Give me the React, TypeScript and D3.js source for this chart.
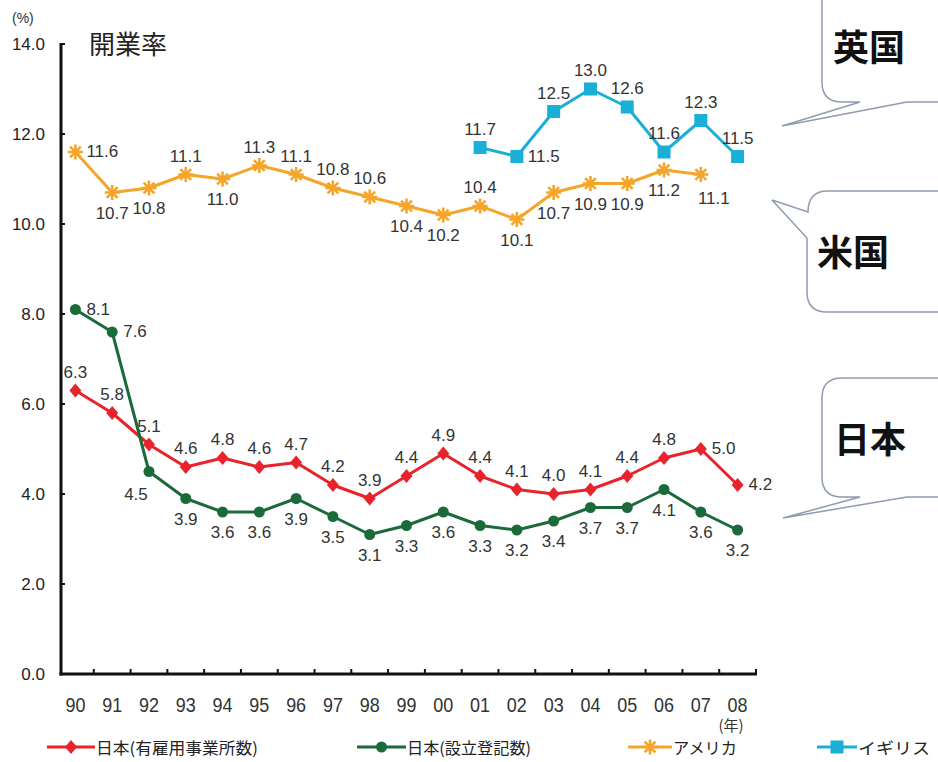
import React from "react";
import * as d3 from "d3";

// years on the x axis
const years = ["90", "91", "92", "93", "94", "95", "96", "97", "98", "99", "00", "01", "02", "03", "04", "05", "06", "07", "08"];
const yTicks = [0, 2, 4, 6, 8, 10, 12, 14];

// 日本(有雇用事業所数)
const japanEmployer = [6.3, 5.8, 5.1, 4.6, 4.8, 4.6, 4.7, 4.2, 3.9, 4.4, 4.9, 4.4, 4.1, 4.0, 4.1, 4.4, 4.8, 5.0, 4.2];
const japanEmployerLabelPos = ["a", "a", "a", "a", "a", "a", "a", "a", "a", "a", "a", "a", "a", "a", "a", "a", "a", "r", "r"];

// 日本(設立登記数)
const japanRegistry = [8.1, 7.6, 4.5, 3.9, 3.6, 3.6, 3.9, 3.5, 3.1, 3.3, 3.6, 3.3, 3.2, 3.4, 3.7, 3.7, 4.1, 3.6, 3.2];
const japanRegistryLabelPos = ["r", "r", "bl", "b", "b", "b", "b", "b", "b", "b", "b", "b", "b", "b", "b", "b", "b", "b", "b"];

// アメリカ (90-07)
const usYears = ["90", "91", "92", "93", "94", "95", "96", "97", "98", "99", "00", "01", "02", "03", "04", "05", "06", "07"];
const usRate = [11.6, 10.7, 10.8, 11.1, 11.0, 11.3, 11.1, 10.8, 10.6, 10.4, 10.2, 10.4, 10.1, 10.7, 10.9, 10.9, 11.2, 11.1];
const usLabelPos = ["r", "b", "b", "a", "b", "a", "a", "a", "a", "b", "b", "a", "b", "b", "b", "b", "b", "br"];

// イギリス (01-08)
const ukYears = ["01", "02", "03", "04", "05", "06", "07", "08"];
const ukRate = [11.7, 11.5, 12.5, 13.0, 12.6, 11.6, 12.3, 11.5];
const ukLabelPos = ["a", "r", "a", "a", "a", "a", "a", "a"];

const RED = "#e8232b";
const GREEN = "#1b6b3a";
const ORANGE = "#f5a52a";
const CYAN = "#19afd6";

const offsets: Record<string, { dx: number; dy: number; anchor: string }> = {
  a: { dx: 0, dy: -13, anchor: "middle" },
  b: { dx: 0, dy: 26, anchor: "middle" },
  r: { dx: 11, dy: 5, anchor: "start" },
  bl: { dx: -13, dy: 28, anchor: "middle" },
  br: { dx: 13, dy: 29, anchor: "middle" },
};

const sansFont = "'Liberation Sans', Arial, sans-serif";
const jpFont = "'Noto Sans CJK JP', 'Noto Sans', sans-serif";

export default function App() {
  const width = 938;
  const height = 762;

  const x = d3.scaleBand().domain(years).range([57, 756]).padding(0);
  const y = d3.scaleLinear().domain([0, 14]).range([674, 44]);
  const cx = (d: string) => (x(d) as number) + x.bandwidth() / 2;

  const series = [
    { name: "red", keys: years, values: japanEmployer, pos: japanEmployerLabelPos, color: RED, marker: "diamond" },
    { name: "green", keys: years, values: japanRegistry, pos: japanRegistryLabelPos, color: GREEN, marker: "circle" },
    { name: "orange", keys: usYears, values: usRate, pos: usLabelPos, color: ORANGE, marker: "star" },
    { name: "cyan", keys: ukYears, values: ukRate, pos: ukLabelPos, color: CYAN, marker: "square" },
  ];

  const line = d3
    .line<[string, number]>()
    .x((d) => cx(d[0]))
    .y((d) => y(d[1]));

  const drawMarker = (type: string, px: number, py: number, color: string, key: string) => {
    if (type === "diamond") {
      return <path key={key} d={`M${px},${py - 7}L${px + 6},${py}L${px},${py + 7}L${px - 6},${py}Z`} fill={color} />;
    }
    if (type === "circle") {
      return <circle key={key} cx={px} cy={py} r={5.5} fill={color} />;
    }
    if (type === "square") {
      return <rect key={key} x={px - 6.5} y={py - 6.5} width={13} height={13} fill={color} />;
    }
    // 8-ray star
    const r = 7.5;
    const q = r * 0.72;
    return (
      <path
        key={key}
        d={`M${px - r},${py}L${px + r},${py}M${px},${py - r}L${px},${py + r}M${px - q},${py - q}L${px + q},${py + q}M${px - q},${py + q}L${px + q},${py - q}`}
        stroke={color}
        strokeWidth={2.6}
        fill="none"
      />
    );
  };

  const legend = [
    { label: "日本(有雇用事業所数)", color: RED, marker: "diamond", x1: 47, x2: 95, w: 162 },
    { label: "日本(設立登記数)", color: GREEN, marker: "circle", x1: 357, x2: 406, w: 124 },
    { label: "アメリカ", color: ORANGE, marker: "star", x1: 628, x2: 672, w: 64 },
    { label: "イギリス", color: CYAN, marker: "square", x1: 817, x2: 857, w: 72 },
  ];

  return (
    <svg width={width} height={height} style={{ position: "absolute", left: 0, top: 0, background: "#fff" }}>
      {/* callouts */}
      <g fill="#fff" stroke="#8e9bb0" strokeWidth={1.5}>
        <path d="M822,-20L822,82Q822,102 842,102L860,102L782,126L907,102L950,102L950,-20Z" />
        <path d="M828,191L950,191L950,312L827,312Q807,312 807,292L807,238L772,200L808,212Q808,191 828,191Z" />
        <path d="M842,378L950,378L950,497L907,497L783,518L860,497L842,497Q822,497 822,477L822,398Q822,378 842,378Z" />
      </g>
      <g fontFamily={jpFont} fontWeight={700} fontSize={36} fill="#111">
        <text x={869} y={61} textAnchor="middle">英国</text>
        <text x={853} y={266} textAnchor="middle">米国</text>
        <text x={870} y={453} textAnchor="middle">日本</text>
      </g>

      {/* title and unit */}
      <text x={12} y={23} fontFamily={sansFont} fontSize={14} fill="#333">(%)</text>
      <text x={89} y={54} fontFamily={jpFont} fontSize={26} fill="#222">開業率</text>

      {/* y axis */}
      <line x1={61} x2={61} y1={y(14) - 1} y2={y(0) + 1.5} stroke="#111" strokeWidth={3} />
      {yTicks.map((t) => (
        <g key={t}>
          <line x1={61} x2={65} y1={y(t)} y2={y(t)} stroke="#111" strokeWidth={2} />
          <text x={45} y={y(t) + 6} textAnchor="end" fontFamily={sansFont} fontSize={17} fill="#222">
            {t.toFixed(1)}
          </text>
        </g>
      ))}

      {/* x axis */}
      <line x1={59.5} x2={757} y1={y(0)} y2={y(0)} stroke="#111" strokeWidth={3} />
      {years.map((d, i) =>
        i === 0 ? null : (
          <line key={"t" + d} x1={x(d) as number} x2={x(d) as number} y1={y(0)} y2={y(0) - 5} stroke="#111" strokeWidth={2} />
        )
      )}
      <line x1={756} x2={756} y1={y(0)} y2={y(0) - 5} stroke="#111" strokeWidth={2} />
      {years.map((d) => (
        <text key={"x" + d} x={cx(d)} y={712} textAnchor="middle" fontFamily={sansFont} fontSize={20} fill="#333" textLength={20} lengthAdjust="spacingAndGlyphs">
          {d}
        </text>
      ))}
      <text x={731} y={731} textAnchor="middle" fontFamily={jpFont} fontSize={15} fill="#333">(年)</text>

      {/* series */}
      {series.map((s) => {
        const pts = s.keys.map((k, i) => [k, s.values[i]] as [string, number]);
        return (
          <g key={s.name}>
            <path d={line(pts) as string} fill="none" stroke={s.color} strokeWidth={3} strokeLinejoin="round" />
            {pts.map((p, i) => drawMarker(s.marker, cx(p[0]), y(p[1]), s.color, s.name + i))}
            {pts.map((p, i) => {
              const o = offsets[s.pos[i]];
              return (
                <text
                  key={s.name + "l" + i}
                  x={cx(p[0]) + o.dx}
                  y={y(p[1]) + o.dy}
                  textAnchor={o.anchor}
                  fontFamily={sansFont}
                  fontSize={17}
                  fill="#333"
                >
                  {p[1].toFixed(1)}
                </text>
              );
            })}
          </g>
        );
      })}

      {/* legend */}
      {legend.map((l) => (
        <g key={l.label}>
          <line x1={l.x1} x2={l.x2} y1={747} y2={747} stroke={l.color} strokeWidth={3} />
          {drawMarker(l.marker, (l.x1 + l.x2) / 2, 747, l.color, "m" + l.label)}
          <text
            x={l.x2 + 1}
            y={754}
            fontFamily={jpFont}
            fontSize={16}
            fill="#222"
            textLength={l.w}
            lengthAdjust="spacingAndGlyphs"
          >
            {l.label}
          </text>
        </g>
      ))}
    </svg>
  );
}
